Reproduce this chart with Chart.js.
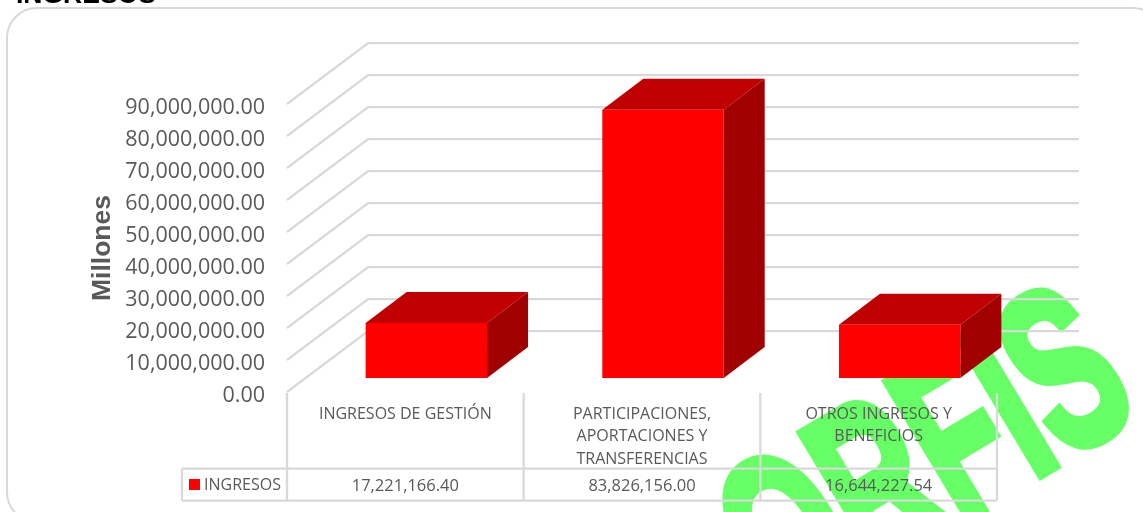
<!DOCTYPE html>
<html>
<head>
  <meta charset="utf-8">
  <title>Ingresos</title>
  <script src="https://cdn.jsdelivr.net/npm/chart.js@4"></script>
  <style>
    html, body { margin: 0; padding: 0; background: #fff; }
    #wrap { width: 1143px; height: 512px; }
  </style>
</head>
<body>
  <div id="wrap"><canvas id="chart" width="1143" height="512"></canvas></div>
  <script>
    var categories = [
      "INGRESOS DE GESTIÓN",
      ["PARTICIPACIONES,", "APORTACIONES Y", "TRANSFERENCIAS"],
      ["OTROS INGRESOS Y", "BENEFICIOS"]
    ];
    var seriesName = "INGRESOS";
    var ingresos = [17221166.40, 83826156.00, 16644227.54];
    var yTicks = [0, 10000000, 20000000, 30000000, 40000000, 50000000, 60000000, 70000000, 80000000, 90000000];

    var grey = "#d9d9d9";
    var textGrey = "#595959";
    var font = "'Open Sans', sans-serif";

    function money(v) {
      return v.toLocaleString("en-US", { minimumFractionDigits: 2, maximumFractionDigits: 2 });
    }

    // page furniture behind the chart: cut off title, rounded frame, stamp
    var background = {
      id: "background",
      beforeDraw: function (chart) {
        var ctx = chart.ctx;
        ctx.save();
        ctx.fillStyle = "#66ff66";
        ctx.translate(782, 630);
        ctx.rotate(-31 * Math.PI / 180);
        ctx.scale(0.6, 1);
        ctx.font = "bold 230px 'Liberation Sans'";
        ctx.lineJoin = "miter";
        ctx.strokeStyle = "#66ff66";
        ctx.lineWidth = 10;
        ctx.fillText("ORFIS", 0, 0);
        ctx.strokeText("ORFIS", 0, 0);
        ctx.restore();

        ctx.save();
        ctx.fillStyle = "#000";
        ctx.font = "bold 26.5px 'Liberation Sans'";
        ctx.fillText("INGRESOS", 16, 3);
        ctx.strokeStyle = grey;
        ctx.lineWidth = 2;
        ctx.beginPath();
        ctx.roundRect(7, 8, 1156, 514, 30);
        ctx.stroke();
        ctx.restore();
      }
    };

    // 3D walls from the y scale, bars pushed back and given top and side faces
    var dx = 21, dy = -14, depthX = 41, depthY = -31, wallX = 81, wallY = -61;

    var threeD = {
      id: "threeD",
      beforeDatasetsDraw: function (chart) {
        var ctx = chart.ctx, y = chart.scales.y, x = chart.scales.x;
        ctx.save();
        ctx.strokeStyle = grey;
        ctx.lineWidth = 2.25;
        y.ticks.forEach(function (t) {
          var py = y.getPixelForValue(t.value);
          ctx.beginPath();
          ctx.moveTo(x.left, py);
          ctx.lineTo(x.left + wallX, py + wallY);
          ctx.lineTo(x.right + wallX + 1, py + wallY);
          ctx.stroke();
        });
        ctx.restore();
      },
      beforeDatasetDraw: function (chart) {
        var ctx = chart.ctx;
        ctx.save();
        ctx.translate(dx, dy);
        chart.getDatasetMeta(0).data.forEach(function (bar) {
          var half = bar.width / 2, l = bar.x - half, r = bar.x + half, t = bar.y, b = bar.base;
          ctx.fillStyle = "#c00000";
          ctx.beginPath();
          ctx.moveTo(l, t);
          ctx.lineTo(l + depthX, t + depthY);
          ctx.lineTo(r + depthX, t + depthY);
          ctx.lineTo(r, t);
          ctx.closePath();
          ctx.fill();
          ctx.fillStyle = "#a00000";
          ctx.beginPath();
          ctx.moveTo(r, t);
          ctx.lineTo(r + depthX, t + depthY);
          ctx.lineTo(r + depthX, b + depthY);
          ctx.lineTo(r, b);
          ctx.closePath();
          ctx.fill();
        });
      },
      afterDatasetDraw: function (chart) {
        chart.ctx.restore();
      }
    };

    // data table under the plot, columns follow the category scale
    var dataTable = {
      id: "dataTable",
      afterDraw: function (chart) {
        var ctx = chart.ctx, x = chart.scales.x, y = chart.scales.y;
        var top = 468.5, bottom = 500.5, keyLeft = 182;
        var step = (x.right - x.left) / categories.length;
        ctx.save();
        ctx.strokeStyle = grey;
        ctx.lineWidth = 2.25;
        ctx.beginPath();
        ctx.moveTo(keyLeft, top); ctx.lineTo(x.right, top);
        ctx.moveTo(keyLeft, bottom); ctx.lineTo(x.right, bottom);
        ctx.moveTo(keyLeft, top); ctx.lineTo(keyLeft, bottom);
        for (var i = 0; i <= categories.length; i++) {
          ctx.moveTo(x.left + i * step, y.bottom + 1);
          ctx.lineTo(x.left + i * step, bottom);
        }
        ctx.stroke();
        ctx.fillStyle = "#ff0000";
        ctx.fillRect(189, 479, 11, 11);
        ctx.fillStyle = textGrey;
        ctx.font = "16px " + font;
        ctx.textBaseline = "middle";
        ctx.textAlign = "left";
        ctx.fillText(seriesName, 204, 485);
        ctx.textAlign = "center";
        ctx.font = "16.5px " + font;
        ingresos.forEach(function (v, i) {
          ctx.fillText(money(v), x.getPixelForValue(i), 486);
        });
        ctx.restore();
      }
    };

    new Chart(document.getElementById("chart"), {
      type: "bar",
      data: {
        labels: categories,
        datasets: [{
          label: seriesName,
          data: ingresos,
          backgroundColor: "#ff0000",
          barPercentage: 0.513,
          categoryPercentage: 1
        }]
      },
      plugins: [background, threeD, dataTable],
      options: {
        responsive: false,
        animation: false,
        layout: { padding: { left: 87, right: 146, top: 104, bottom: 20 } },
        plugins: { legend: { display: false }, title: { display: false }, tooltip: { enabled: false } },
        scales: {
          x: {
            afterFit: function (s) { s.height = 100; },
            grid: { display: false },
            border: { display: false },
            ticks: { color: textGrey, font: { family: font, size: 16, lineHeight: 1.4 }, padding: 3, maxRotation: 0, autoSkip: false }
          },
          y: {
            min: 0,
            max: 90000000,
            afterFit: function (s) { s.width = 200; },
            afterBuildTicks: function (s) { s.ticks = yTicks.map(function (v) { return { value: v }; }); },
            grid: { display: false, drawTicks: false },
            border: { display: false },
            title: {
              display: true,
              text: "Millones",
              color: textGrey,
              padding: 0,
              font: { family: "'Liberation Sans'", size: 26.5, weight: "bold" }
            },
            ticks: {
              color: textGrey,
              padding: 22,
              labelOffset: 3.5,
              font: { family: font, size: 21.5 },
              callback: function (v) { return money(v); }
            }
          }
        }
      }
    });
  </script>
</body>
</html>
